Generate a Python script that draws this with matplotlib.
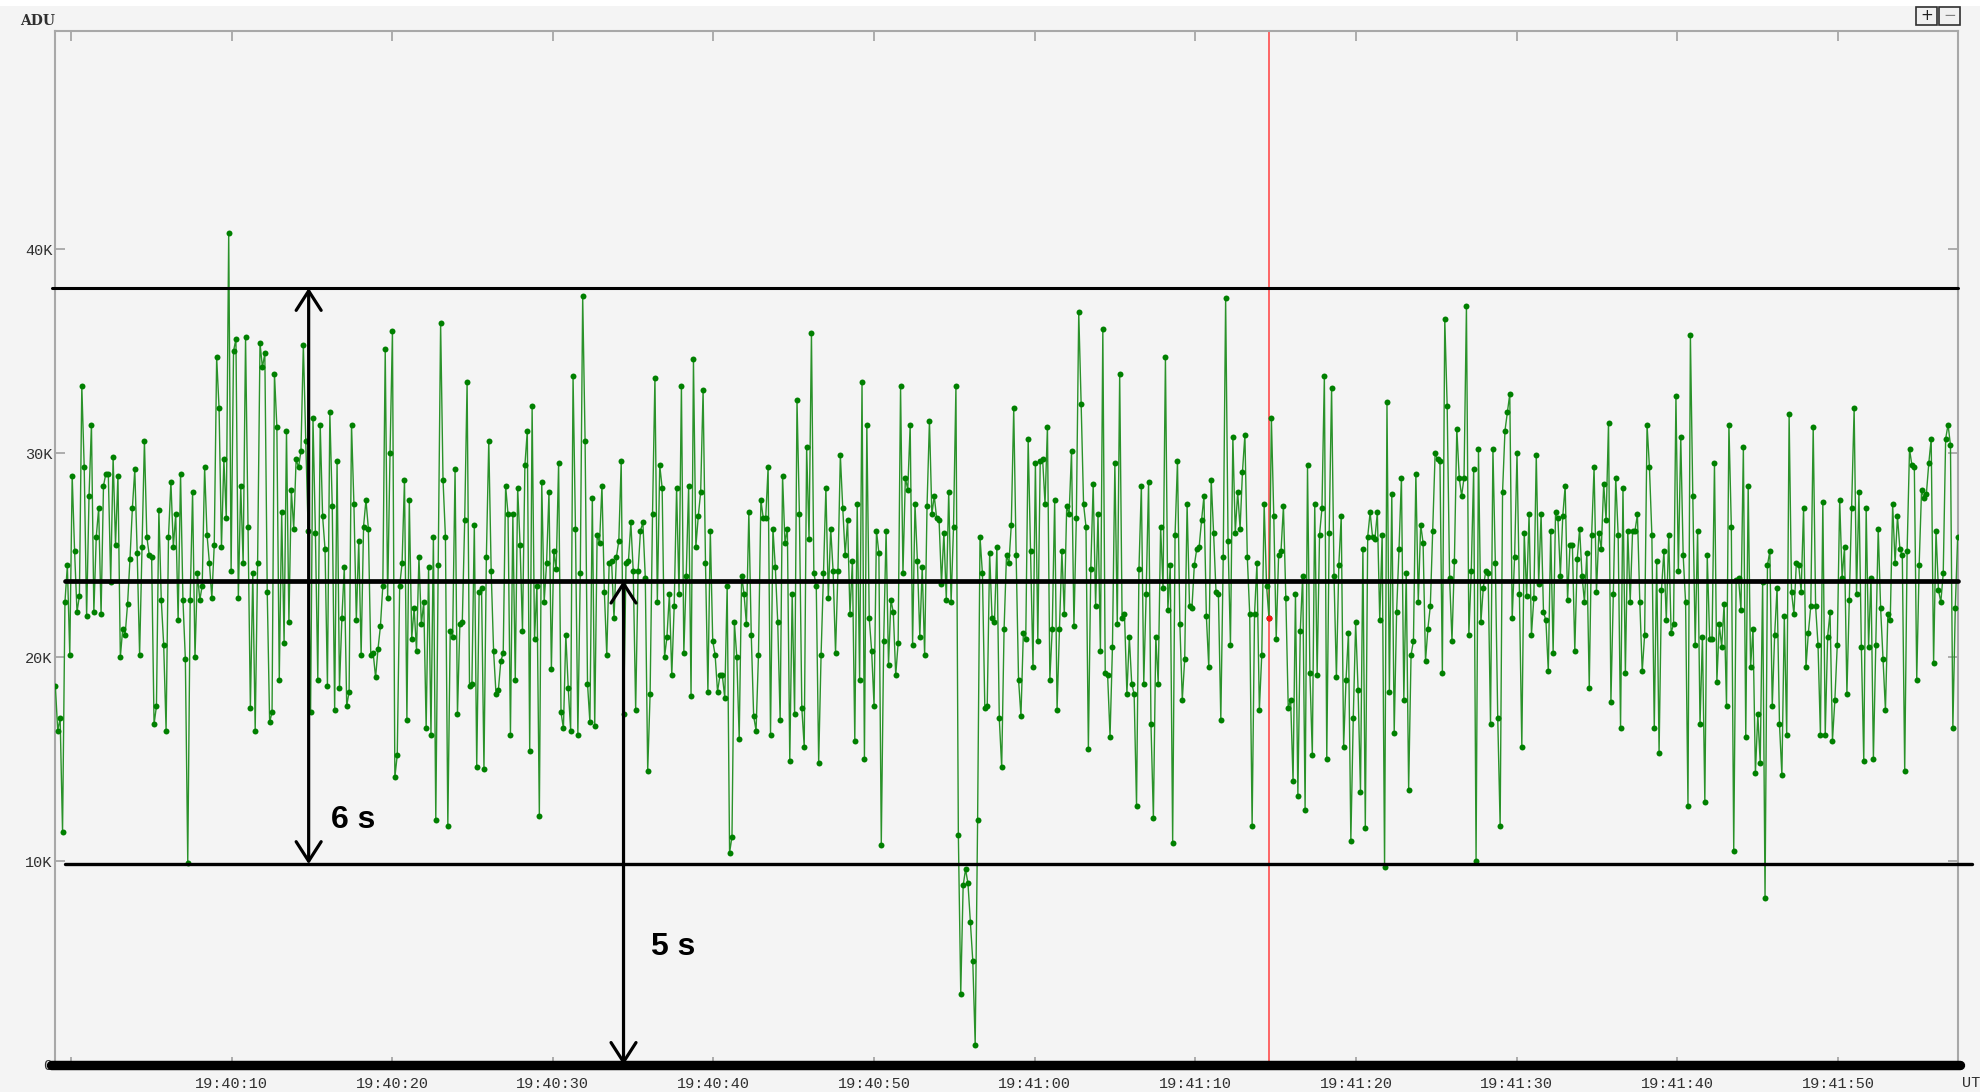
import numpy as np
import matplotlib
matplotlib.use('Agg')
from matplotlib import pyplot as plt
from matplotlib.patches import Rectangle

# ADU values in thousands left to right (split in chunks)
adu_seg1 = [18.6, 16.4, 17.0, 11.4, 22.7, 24.5, 20.1, 28.9, 25.2, 22.2,
            23.0, 33.3, 29.3, 22.0, 27.9, 31.4, 22.2, 25.9, 27.3, 22.1,
            28.4, 29.0, 29.0, 23.7, 29.8, 25.5, 28.9, 20.0, 21.4, 21.1,
            22.6, 24.8, 27.3, 29.2, 25.1, 20.1, 25.4, 30.6, 25.9, 25.0,
            24.9, 16.7, 17.6, 27.2, 22.8, 20.6, 16.4, 25.9, 28.6, 25.4,
            27.0, 21.8, 29.0, 22.8, 19.9, 9.9, 22.8, 28.1, 20.0, 24.1,
            22.8, 23.5, 29.3, 26.0, 24.6, 22.9, 25.5, 34.7, 32.2, 25.4,
            29.7, 26.8, 40.8, 24.2, 35.0, 35.6, 22.9, 28.4, 24.6, 35.7,
            26.4, 17.5, 24.1, 16.4, 24.6, 35.4, 34.2, 34.9, 23.2, 16.8,
            17.3, 33.9, 31.3, 18.9, 27.1, 20.7, 31.1, 21.7, 28.2, 26.3,
            29.7, 29.3, 30.1, 35.3]
adu_seg2 = [30.6, 26.2, 17.3, 31.7, 26.1, 18.9, 31.4, 26.9, 25.3, 18.6,
            32.0, 27.4, 17.4, 29.6, 18.5, 21.9, 24.4, 17.6, 18.3, 31.4,
            27.5, 21.8, 25.7, 20.1, 26.4, 27.7, 26.3, 20.1, 20.2, 19.0,
            20.4, 21.5, 23.5, 35.1, 22.9, 30.0, 36.0, 14.1, 15.2, 23.5,
            24.6, 28.7, 16.9, 27.7, 20.9, 22.4, 20.3, 24.9, 21.6, 22.7,
            16.5, 24.4, 16.2, 25.9, 12.0, 24.5, 36.4, 28.7, 25.9, 11.7,
            21.3, 21.0, 29.2, 17.2, 21.6, 21.7, 26.7, 33.5, 18.6, 18.7,
            26.5, 14.6, 23.2, 23.4, 14.5, 24.9, 30.6, 24.2, 20.3, 18.2,
            18.4, 19.8, 20.2, 28.4, 27.0, 16.2, 27.0, 18.9, 28.3, 25.5,
            21.3, 29.4, 31.1, 15.4, 32.3, 20.9, 23.5, 12.2, 28.6, 22.7,
            24.6, 28.1, 19.4, 25.2, 24.3, 29.5, 17.3, 16.5, 21.1, 18.5,
            16.4, 33.8, 26.3, 16.2]
adu_seg3 = [24.1, 37.7, 30.6, 18.7, 16.8, 27.8, 16.6, 26.0, 25.6, 28.4,
            23.2, 20.1, 24.6, 24.7, 21.9, 24.9, 25.7, 29.6, 17.2, 24.6,
            24.7, 26.6, 24.2, 17.4, 24.2, 26.2, 26.6, 23.9, 14.4, 18.2,
            27.0, 33.7, 22.7, 29.4, 28.3, 20.0, 21.0, 23.1, 19.1, 22.5,
            28.3, 23.1, 33.3, 20.2, 24.0, 28.4, 18.1, 34.6, 25.4, 26.9,
            28.1, 33.1, 24.6, 18.3, 26.2, 20.8, 20.1, 18.3, 19.1, 19.1,
            18.0, 23.5, 10.4, 11.2, 21.7, 20.0, 16.0, 24.0, 23.1, 21.6,
            27.1, 21.1, 17.1, 16.4, 20.1, 27.7, 26.8, 26.8, 29.3, 16.2,
            26.3, 24.4, 21.7, 16.9, 28.9, 25.6, 26.3, 14.9, 23.1, 17.2,
            32.6, 27.0, 17.5, 15.6, 30.3, 25.8, 35.9, 24.1, 23.5, 14.8,
            20.1, 24.1, 28.3, 22.9, 26.3, 24.2, 20.2, 24.2, 29.9, 27.3,
            25.0, 26.7, 22.1, 24.7, 15.9, 27.5, 18.9, 33.5]
adu_seg4 = [15.0, 31.4, 21.9, 20.3, 17.6, 26.2, 25.1, 10.8, 20.8, 26.2,
            19.6, 22.8, 22.2, 19.1, 20.7, 33.3, 24.1, 28.8, 28.2, 31.4,
            20.6, 27.5, 24.7, 21.0, 24.4, 20.1, 27.4, 31.6, 27.0, 27.9,
            26.8, 26.7, 23.6, 26.1, 22.8, 28.1, 22.7, 26.4, 33.3, 11.3,
            3.5, 8.8, 9.6, 8.9, 7.0, 5.1, 1.0, 12.0, 25.9, 24.1,
            17.5, 17.6, 25.1, 21.9, 21.7, 25.4, 17.0, 14.6, 21.4, 25.0,
            24.6, 26.5, 32.2, 25.0, 18.9, 17.1, 21.2, 20.9, 30.7, 25.2,
            19.5, 29.5, 20.8, 29.6, 29.7, 27.5, 31.3, 18.9, 21.4, 27.7,
            17.4, 21.4, 25.2, 22.1, 27.4, 27.0, 30.1, 21.5, 26.8, 36.9,
            32.4, 27.5, 26.4, 15.5, 24.3, 28.5, 22.5, 27.0, 20.3, 36.1,
            19.2, 19.1, 16.1, 20.5, 29.5, 21.6, 33.9, 21.9, 22.1, 18.2,
            21.0, 18.7, 18.2, 12.7, 24.3]
adu_seg5 = [28.4, 18.7, 23.1, 28.6, 16.7, 12.1, 21.0, 18.7, 26.4, 23.4,
            34.7, 22.3, 24.5, 10.9, 26.0, 29.6, 21.6, 17.9, 19.9, 27.5,
            22.5, 22.4, 24.5, 25.3, 25.4, 26.7, 27.9, 22.0, 19.5, 28.7,
            26.1, 23.2, 23.1, 16.9, 24.9, 37.6, 25.7, 20.6, 30.8, 26.1,
            28.1, 26.3, 29.1, 30.9, 24.9, 22.1, 11.7, 22.1, 24.6, 17.4,
            20.1, 27.5, 23.5, 21.9, 31.7, 26.9, 20.9, 25.0, 25.2, 27.4,
            22.9, 17.5, 17.9, 13.9, 23.1, 13.2, 21.3, 24.0, 12.5, 29.4,
            19.2, 15.2, 27.5, 19.1, 26.0, 27.3, 33.8, 15.0, 26.1, 33.2,
            24.0, 19.0, 24.5, 26.9, 15.6, 18.9, 21.2, 11.0, 17.0, 21.7,
            18.4, 13.4, 25.3, 11.6, 25.9, 27.1, 25.9, 25.8, 27.1, 21.8,
            26.0, 9.7, 32.5, 18.3, 28.0, 16.3, 22.2, 25.3, 28.8, 17.9,
            24.1, 13.5, 20.1]
adu_seg6 = [20.8, 29.0, 22.7, 26.5, 25.6, 19.8, 21.4, 22.5, 26.2, 30.0,
            29.7, 29.6, 19.2, 36.6, 32.3, 23.9, 20.8, 24.7, 31.2, 28.8,
            27.9, 28.8, 37.2, 21.1, 24.2, 29.2, 10.0, 30.2, 21.7, 23.4,
            24.2, 24.1, 16.7, 30.2, 24.6, 17.0, 11.7, 28.1, 31.1, 32.0,
            32.9, 21.9, 24.9, 30.0, 23.1, 15.6, 26.1, 23.0, 27.0, 21.1,
            22.9, 29.9, 23.6, 27.0, 22.2, 21.8, 19.3, 26.2, 20.2, 27.1,
            26.8, 24.0, 26.9, 28.4, 22.8, 25.5, 25.5, 20.3, 24.8, 26.3,
            24.0, 22.7, 25.1, 18.5, 26.0, 29.3, 23.2, 26.1, 25.3, 28.5,
            26.7, 31.5, 17.8, 23.1, 28.8, 26.0, 16.5, 28.3, 19.2, 26.2,
            22.7, 26.2, 26.2, 27.0, 22.7, 19.3, 21.1, 31.4, 29.3, 26.0,
            16.5, 24.7, 15.3, 23.3, 25.2, 21.8, 26.0, 21.2, 21.6, 32.8,
            24.2, 30.8, 25.0, 22.7]
adu_seg7 = [12.7, 35.8, 27.9, 20.6, 26.2, 16.7, 21.0, 12.9, 25.0, 20.9,
            20.9, 29.5, 18.8, 21.6, 20.5, 22.6, 17.6, 31.4, 26.4, 10.5,
            23.8, 23.9, 22.3, 30.3, 16.1, 28.4, 19.5, 21.4, 14.3, 17.2,
            14.8, 23.7, 8.2, 24.5, 25.2, 17.6, 21.1, 23.4, 16.7, 14.2,
            22.0, 16.2, 31.9, 23.2, 22.1, 24.6, 24.5, 23.2, 27.3, 19.5,
            21.2, 22.5, 31.3, 22.5, 20.6, 16.2, 27.6, 16.2, 21.0, 22.2,
            15.9, 17.9, 20.6, 27.7, 23.9, 25.4, 18.2, 22.8, 27.3, 32.2,
            23.1, 28.1, 20.5, 14.9, 27.3, 20.5, 23.9, 15.0, 20.6, 26.3,
            22.4, 19.9, 17.4, 22.1, 21.8, 27.5, 24.6, 26.9, 25.3, 25.0,
            14.4, 25.2, 30.2, 29.4, 29.3, 18.9, 24.5, 28.2, 27.8, 28.0,
            29.5, 30.7, 19.7, 26.2, 23.3, 22.7, 24.1, 30.7, 31.4, 30.4,
            16.5, 22.4, 25.9]

# time of first / last sample, seconds after 19:40:00 UT
t_first = -0.97
t_last = 117.45

# cursor sample (red) : segment 5, position 53
cursor_seg = 5
cursor_pos = 53

# drawn-on reference levels (kADU) and the two interval arrows
ref_levels = [38.1, 23.75, 9.85, 0.0]
arrow_x = [14.8, 34.4]
arrow_span = [(38.1, 9.85), (23.75, 0.0)]
arrow_text = ['6 s', '5 s']
arrow_text_pos = [(17.6, 12.0), (37.5, 5.8)]

x_ticks = [0, 10, 20, 30, 40, 50, 60, 70, 80, 90, 100, 110]
x_labels = ['', '19:40:10', '19:40:20', '19:40:30', '19:40:40', '19:40:50',
            '19:41:00', '19:41:10', '19:41:20', '19:41:30', '19:41:40', '19:41:50']
y_ticks = [0, 10, 20, 30, 40]
y_labels = ['0', '10K', '20K', '30K', '40K']

segs = [adu_seg1, adu_seg2, adu_seg3, adu_seg4, adu_seg5, adu_seg6, adu_seg7]
adu = np.concatenate([np.array(s) for s in segs])
t = np.linspace(t_first, t_last, len(adu))
ci = sum(len(s) for s in segs[:cursor_seg - 1]) + cursor_pos

W, H = 1980, 1092
bg = '#f4f4f4'
mono = 'Liberation Mono'

fig = plt.figure(figsize=(W / 100, H / 100), dpi=100, facecolor=bg)
fig.patches.append(Rectangle((0, 1 - 6 / H), 1, 6 / H, transform=fig.transFigure,
                             facecolor='white', edgecolor='none'))
ax = fig.add_axes([55 / W, 1 - 1067 / H, (1958 - 55) / W, (1067 - 31) / H])
ax.set_facecolor(bg)

# trace
ax.plot(t, adu, color='#2a922a', lw=1.0, zorder=3)
ax.plot(t, adu, 'o', ms=4.3, mfc='#008000', mec='#008000', mew=0, zorder=4)
ax.plot(t[ci], adu[ci], 'o', ms=4.3, mfc='#ff1010', mec='#ff1010', mew=0, zorder=5)
ax.axvline(t[ci], color='#ff5a5a', lw=1.3, zorder=2)

ax.set_xlim(t_first - 0.02, t_last + 0.02)
ax.set_ylim(-0.1, 50.7)

# hand drawn guides
ext = {38.1: (-1.2, 117.5, 2.2), 23.75: (-0.35, 117.5, 3.4),
       9.85: (-0.35, 118.35, 2.4), 0.0: (-1.25, 117.6, 6.8)}
for lev in ref_levels:
    x0, x1, lw = ext[lev]
    ax.plot([x0, x1], [lev, lev], color='black', lw=lw, solid_capstyle='round',
            clip_on=False, zorder=6)

for x, (y0, y1), txt, (tx, ty) in zip(arrow_x, arrow_span, arrow_text, arrow_text_pos):
    ax.annotate('', xy=(x, y1), xytext=(x, y0),
                arrowprops=dict(arrowstyle='<->,head_length=0.7,head_width=0.45',
                                color='black', lw=2.3, mutation_scale=20,
                                shrinkA=0, shrinkB=0), zorder=7)
    ax.text(tx, ty, txt, fontsize=23, fontweight='bold', family='Liberation Sans',
            ha='center', va='center', zorder=7)

ax.set_xticks(x_ticks)
ax.set_xticklabels(x_labels)
ax.set_yticks(y_ticks)
ax.set_yticklabels(y_labels)
ax.tick_params(direction='in', length=7, width=1.2, color='#a0a0a0',
               top=True, right=True, labelsize=11, labelcolor='#303030')
ax.tick_params(axis='x', pad=7)
ax.tick_params(axis='y', pad=2)
for lab in ax.get_xticklabels() + ax.get_yticklabels():
    lab.set_family(mono)
for sp in ax.spines.values():
    sp.set_color('#a8a8a8')
    sp.set_linewidth(1.5)

fig.text(20 / W, 1 - 21 / H, 'ADU', fontsize=10, fontweight='bold',
         family='DejaVu Serif', color='#303030', va='center', ha='left')
fig.text(1962 / W, 1 - 1083 / H, 'UT', fontsize=11, family=mono,
         color='#303030', va='center', ha='left')

# zoom buttons
for bx, sym in [(1916, '+'), (1939, '−')]:
    fig.patches.append(Rectangle((bx / W, 1 - 25 / H), 21 / W, 18 / H,
                                 transform=fig.transFigure, facecolor='#f0f0f0',
                                 edgecolor='#303030', lw=1.2))
    fig.text((bx + 10.5) / W, 1 - 16 / H, sym, fontsize=11, ha='center', va='center',
             color='#202020' if sym == '+' else '#808080')

fig.savefig('out.png', dpi=100, facecolor=bg)
